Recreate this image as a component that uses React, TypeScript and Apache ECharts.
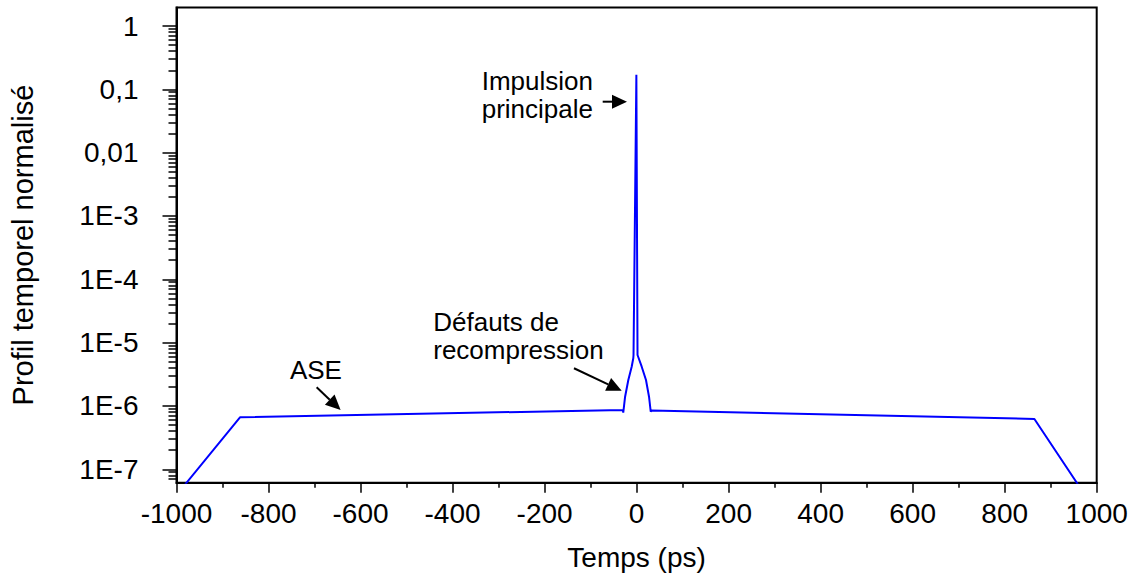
import React, { useEffect, useRef } from "react";
import * as echarts from "echarts";

// ---- Data ----
const timePs = [-981, -862, -30, -29, -25, -18, -10.7, -7.2, -6.7, -0.5, 2, 11.1, 20.4, 27, 30.7, 32.8, 864.6, 959];
const profile = [5.8e-8, 6.62e-7, 8.65e-7, 7.83e-7, 1.4e-6, 2.57e-6, 4.17e-6, 5.66e-6, 6.38e-6, 0.17, 6.38e-6, 4.17e-6, 2.57e-6, 1.4e-6, 8.13e-7, 8.49e-7, 6.23e-7, 5.8e-8];

// ---- Axes ----
const xMin = -1000;
const xMax = 1000;
const xStep = 200;
const yMin = 6.14e-8;
const yMax = 1.96;
const yMajorValues = [1e-7, 1e-6, 1e-5, 1e-4, 1e-3, 1e-2, 1e-1, 1];
const yMajorLabels = ["1E-7", "1E-6", "1E-5", "1E-4", "1E-3", "0,01", "0,1", "1"];
const yMinorMultipliers = [2, 3, 4, 5, 6, 7, 8, 9];
const yMinorDecades = [1e-8, 1e-7, 1e-6, 1e-5, 1e-4, 1e-3, 1e-2, 1e-1];

// ---- Annotations (in data coordinates) ----
const annotationTexts = [
  { text: "Impulsion\nprincipale", x: -336.7, y: 0.0828 },
  { text: "Défauts de\nrecompression", x: -442, y: 1.25e-5 },
  { text: "ASE", x: -753.5, y: 3.7e-6 },
];
const annotationArrows = [
  { from: [-73.7, 0.0638], to: [-20.9, 0.0638] },
  { from: [-136.1, 3.94e-6], to: [-32.4, 1.74e-6] },
  { from: [-695.4, 1.97e-6], to: [-643.3, 8.64e-7] },
];

const FONT = '"Liberation Sans", Arial, Helvetica, sans-serif';

export default function App() {
  const ref = useRef<HTMLDivElement>(null);

  useEffect(() => {
    if (!ref.current) return;
    const chart = echarts.init(ref.current, undefined, { renderer: "svg" });

    const minorValues: number[] = [];
    yMinorDecades.forEach((d) =>
      yMinorMultipliers.forEach((m) => {
        const v = m * d;
        if (v > yMin && v < yMax) minorValues.push(v);
      })
    );

    const labelFor = (v: number) => {
      const e = Math.round(Math.log10(v));
      const idx = yMajorValues.findIndex((mv) => Math.round(Math.log10(mv)) === e);
      if (idx < 0 || Math.abs(Math.log10(v) - e) > 1e-6) return "";
      return yMajorLabels[idx];
    };

    const axisText = { color: "#000", fontSize: 28, fontFamily: FONT };

    chart.setOption({
      animation: false,
      backgroundColor: "#fff",
      grid: {
        left: 176.5,
        right: 31.3,
        top: 7.5,
        bottom: 94.3,
        show: true,
        borderColor: "#000",
        borderWidth: 2,
        backgroundColor: "transparent",
        containLabel: false,
        outerBoundsMode: "none",
      },
      xAxis: {
        type: "value",
        min: xMin,
        max: xMax,
        interval: xStep,
        name: "Temps (ps)",
        nameLocation: "middle",
        nameGap: 61,
        nameTextStyle: axisText,
        axisLine: { show: true, onZero: false, lineStyle: { color: "#000", width: 2 } },
        axisTick: { show: true, inside: false, length: 10, lineStyle: { color: "#000", width: 1.5 } },
        minorTick: { show: true, splitNumber: 2, length: 5, lineStyle: { color: "#000", width: 1.5 } },
        axisLabel: { ...axisText, margin: 17, formatter: (v: number) => String(v) },
        splitLine: { show: false },
        minorSplitLine: { show: false },
      },
      yAxis: [
        {
          type: "log",
          logBase: 10,
          min: yMin,
          max: yMax,
          position: "left",
          name: "Profil temporel normalisé",
          nameLocation: "middle",
          nameGap: 139,
          nameTextStyle: { ...axisText, fontSize: 29 },
          axisLine: { show: true, onZero: false, lineStyle: { color: "#000", width: 2 } },
          axisTick: {
            show: true,
            inside: false,
            length: 14,
            customValues: yMajorValues,
            lineStyle: { color: "#000", width: 1.5 },
          },
          axisLabel: {
            ...axisText,
            margin: 38,
            customValues: yMajorValues,
            formatter: (v: number) => labelFor(v),
          },
          splitLine: { show: false },
        },
        {
          type: "log",
          logBase: 10,
          min: yMin,
          max: yMax,
          position: "left",
          axisLine: { show: false, onZero: false },
          axisTick: {
            show: true,
            inside: false,
            length: 8,
            customValues: minorValues,
            lineStyle: { color: "#000", width: 1.5 },
          },
          axisLabel: { show: false },
          splitLine: { show: false },
        },
      ],
      series: [
        {
          type: "line",
          data: timePs.map((t, i) => [t, profile[i]]),
          showSymbol: false,
          symbol: "none",
          clip: true,
          lineStyle: { color: "#0000ff", width: 2 },
          xAxisIndex: 0,
          yAxisIndex: 0,
        },
      ],
    });

    const toPx = (p: number[]) =>
      chart.convertToPixel({ xAxisIndex: 0, yAxisIndex: 0 }, p) as number[];

    const graphics: any[] = [];
    annotationTexts.forEach((a) => {
      const [px, py] = toPx([a.x, a.y]);
      graphics.push({
        type: "text",
        x: px,
        y: py,
        z: 100,
        style: {
          text: a.text,
          fill: "#000",
          fontSize: 26,
          fontFamily: FONT,
          align: "left",
          verticalAlign: "middle",
          lineHeight: 28,
        },
      });
    });
    const headLen = 15;
    const headHalf = 7;
    annotationArrows.forEach((a) => {
      const [x1, y1] = toPx(a.from);
      const [x2, y2] = toPx(a.to);
      const dx = x2 - x1;
      const dy = y2 - y1;
      const len = Math.hypot(dx, dy);
      const ux = dx / len;
      const uy = dy / len;
      const bx = x2 - ux * headLen;
      const by = y2 - uy * headLen;
      graphics.push({
        type: "line",
        z: 100,
        shape: { x1, y1, x2: bx, y2: by },
        style: { stroke: "#000", lineWidth: 2 },
      });
      graphics.push({
        type: "polygon",
        z: 100,
        shape: {
          points: [
            [x2, y2],
            [bx - uy * headHalf, by + ux * headHalf],
            [bx + uy * headHalf, by - ux * headHalf],
          ],
        },
        style: { fill: "#000" },
      });
    });
    chart.setOption({ graphic: graphics });

    return () => chart.dispose();
  }, []);

  return (
    <div
      ref={ref}
      style={{ position: "absolute", left: 0, top: 0, width: 1128, height: 577, background: "#fff" }}
    />
  );
}
